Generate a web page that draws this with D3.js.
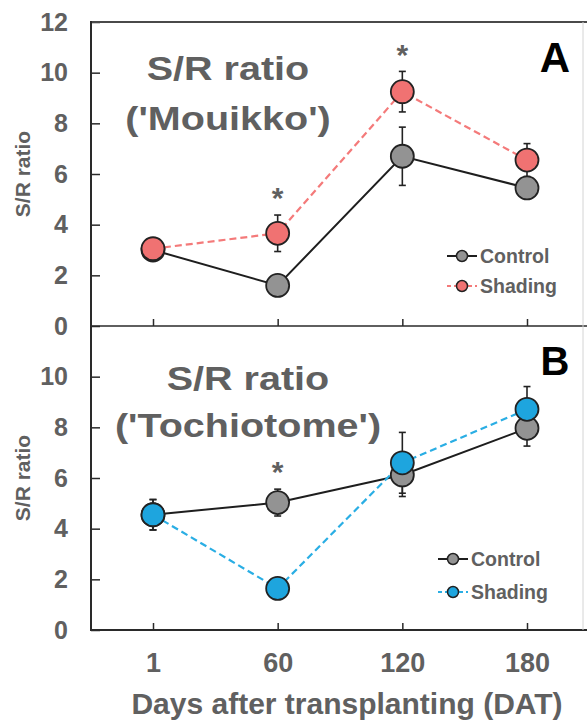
<!DOCTYPE html>
<html>
<head>
<meta charset="utf-8">
<script src="https://cdn.jsdelivr.net/npm/d3@7"></script>
<style>
  body { margin: 0; background: #fff; }
  text { font-family: "Liberation Sans", Arial, sans-serif; font-weight: bold; }
</style>
</head>
<body>
<div id="chart"></div>
<script>
// data
var days = ["1", "60", "120", "180"];
var yTicksA = [0, 2, 4, 6, 8, 10, 12];
var yTicksB = [0, 2, 4, 6, 8, 10];

// panel A, 'Mouikko'
var mouikkoControl = [3.0, 1.6, 6.7, 5.45];
var mouikkoControlErr = [0.15, 0.2, 1.15, 0.3];
var mouikkoShading = [3.05, 3.66, 9.25, 6.55];
var mouikkoShadingErr = [0.15, 0.72, 0.8, 0.65];
var mouikkoSig = ["60", "120"];

// panel B, 'Tochiotome'
var tochiControl = [4.55, 5.03, 6.12, 7.96];
var tochiControlErr = [0.6, 0.53, 0.85, 0.7];
var tochiShading = [4.55, 1.64, 6.6, 8.71];
var tochiShadingErr = [0.6, 0.2, 1.2, 0.9];
var tochiSig = ["60"];

var svgWidth = 587;
var svgHeight = 721;

var left = 91, right = 583;
var topA = 22, mid = 326, bottomB = 630;

var grayText = "#606060";
var axisColor = "#2a2a2a";

var svg = d3.select("#chart")
  .append("svg")
  .attr("width", svgWidth)
  .attr("height", svgHeight);

var x = d3.scalePoint()
  .domain(days)
  .range([153, 527]);

var yA = d3.scaleLinear().domain([0, 12]).range([mid, topA]);
var yB = d3.scaleLinear().domain([0, 12]).range([bottomB, mid]);

function drawPanel(opts) {
  var y = opts.y;
  var g = svg.append("g");

  // left axis
  var leftAxis = d3.axisLeft(y)
    .tickValues(opts.yTicks)
    .tickSize(-9)
    .tickSizeOuter(0)
    .tickPadding(23);
  var ya = g.append("g")
    .attr("transform", `translate(${left},0)`)
    .call(leftAxis);
  ya.select(".domain").remove();
  ya.selectAll("line").attr("stroke", axisColor).attr("stroke-width", 1.5);
  ya.selectAll("text")
    .attr("fill", grayText)
    .style("font-size", "25px");

  // bottom ticks (pointing up)
  var bottomAxis = d3.axisBottom(x).tickSize(-7).tickSizeOuter(0).tickPadding(16);
  var xa = g.append("g")
    .attr("transform", `translate(0,${y(0)})`)
    .call(bottomAxis);
  xa.select(".domain").remove();
  xa.selectAll("line").attr("stroke", axisColor).attr("stroke-width", 1.5);
  if (opts.xLabels) {
    xa.selectAll("text")
      .attr("fill", grayText)
      .attr("dy", "0")
      .attr("y", 672 - y(0))
      .style("font-size", "27px");
  } else {
    xa.selectAll("text").remove();
  }

  // big title
  g.selectAll(".ptitle")
    .data(opts.title)
    .enter()
    .append("text")
    .attr("class", "ptitle")
    .attr("text-anchor", "middle")
    .attr("transform", (d, i) => `translate(${opts.titleX},${opts.titleY[i]}) scale(1.18,1)`)
    .attr("fill", grayText)
    .style("font-size", "33.5px")
    .text(d => d);

  // panel letter
  g.append("text")
    .attr("x", 555)
    .attr("y", opts.letterY)
    .attr("text-anchor", "middle")
    .attr("fill", "#000")
    .style("font-size", opts.letterSize + "px")
    .text(opts.letter);

  var ctrl = days.map((d, i) => ({day: d, v: opts.control[i], e: opts.controlErr[i]}));
  var shd = days.map((d, i) => ({day: d, v: opts.shading[i], e: opts.shadingErr[i]}));

  // error bars
  [ctrl, shd].forEach(function(series) {
    var eb = g.append("g").selectAll("g")
      .data(series)
      .enter()
      .append("g")
      .attr("stroke", "#222")
      .attr("stroke-width", 1.6);
    eb.append("line")
      .attr("x1", d => x(d.day)).attr("x2", d => x(d.day))
      .attr("y1", d => y(d.v - d.e)).attr("y2", d => y(d.v + d.e));
    eb.append("line")
      .attr("x1", d => x(d.day) - 3.5).attr("x2", d => x(d.day) + 3.5)
      .attr("y1", d => y(d.v + d.e)).attr("y2", d => y(d.v + d.e));
    eb.append("line")
      .attr("x1", d => x(d.day) - 3.5).attr("x2", d => x(d.day) + 3.5)
      .attr("y1", d => y(d.v - d.e)).attr("y2", d => y(d.v - d.e));
  });

  var line = d3.line().x(d => x(d.day)).y(d => y(d.v));

  g.append("path")
    .datum(ctrl)
    .attr("d", line)
    .attr("fill", "none")
    .attr("stroke", "#1e1e1e")
    .attr("stroke-width", 2);

  g.append("path")
    .datum(shd)
    .attr("d", line)
    .attr("fill", "none")
    .attr("stroke", opts.lineColor)
    .attr("stroke-width", 2.2)
    .attr("stroke-dasharray", "7,4");

  g.append("g").selectAll("circle")
    .data(ctrl)
    .enter()
    .append("circle")
    .attr("cx", d => x(d.day))
    .attr("cy", d => y(d.v))
    .attr("r", 11.5)
    .attr("fill", "#939393")
    .attr("stroke", "#222")
    .attr("stroke-width", 1.8);

  g.append("g").selectAll("circle")
    .data(shd)
    .enter()
    .append("circle")
    .attr("cx", d => x(d.day))
    .attr("cy", d => y(d.v))
    .attr("r", 11.5)
    .attr("fill", opts.fill)
    .attr("stroke", "#222")
    .attr("stroke-width", 1.8);

  // asterisks above the highest error bar
  g.selectAll(".star")
    .data(opts.sig)
    .enter()
    .append("text")
    .attr("class", "star")
    .attr("x", d => x(d))
    .attr("y", function(d) {
      var i = days.indexOf(d);
      var top = Math.max(opts.control[i] + opts.controlErr[i], opts.shading[i] + opts.shadingErr[i]);
      return y(top + 0.9) + 16;
    })
    .attr("text-anchor", "middle")
    .attr("fill", grayText)
    .style("font-size", "30px")
    .text("*");

  // legend
  var lg = g.append("g");
  var items = [
    {name: "Control", stroke: "#1e1e1e", dash: null, fill: "#939393"},
    {name: "Shading", stroke: opts.lineColor, dash: "4,3", fill: opts.fill}
  ];
  items.forEach(function(it, i) {
    var ly = opts.legendY[i];
    lg.append("line")
      .attr("x1", opts.legendX).attr("x2", opts.legendX + 30)
      .attr("y1", ly).attr("y2", ly)
      .attr("stroke", it.stroke)
      .attr("stroke-width", 2)
      .attr("stroke-dasharray", it.dash);
    lg.append("circle")
      .attr("cx", opts.legendX + 15).attr("cy", ly)
      .attr("r", 5.5)
      .attr("fill", it.fill)
      .attr("stroke", "#222")
      .attr("stroke-width", 1.5);
    lg.append("text")
      .attr("x", opts.legendX + 33)
      .attr("y", ly + 7)
      .attr("fill", grayText)
      .style("font-size", "19.5px")
      .text(it.name);
  });
}

drawPanel({
  y: yA, yTicks: yTicksA, xLabels: false,
  title: ["S/R ratio", "('Mouikko')"], titleX: 228, titleY: [80, 130],
  letter: "A", letterY: 72, letterSize: 42,
  control: mouikkoControl, controlErr: mouikkoControlErr,
  shading: mouikkoShading, shadingErr: mouikkoShadingErr,
  sig: mouikkoSig,
  lineColor: "#f47a7a", fill: "#f07272",
  legendX: 447, legendY: [256, 286]
});

drawPanel({
  y: yB, yTicks: yTicksB, xLabels: true,
  title: ["S/R ratio", "('Tochiotome')"], titleX: 248, titleY: [390, 437],
  letter: "B", letterY: 375, letterSize: 40,
  control: tochiControl, controlErr: tochiControlErr,
  shading: tochiShading, shadingErr: tochiShadingErr,
  sig: tochiSig,
  lineColor: "#2aaee4", fill: "#1ea5de",
  legendX: 438, legendY: [559, 592]
});

// frame lines
svg.append("line")
  .attr("x1", left).attr("x2", svgWidth).attr("y1", topA).attr("y2", topA)
  .attr("stroke", "#4a4a4a").attr("stroke-width", 2);
svg.append("line")
  .attr("x1", left).attr("x2", svgWidth).attr("y1", mid).attr("y2", mid)
  .attr("stroke", axisColor).attr("stroke-width", 1.5);
svg.append("line")
  .attr("x1", left).attr("x2", svgWidth).attr("y1", bottomB).attr("y2", bottomB)
  .attr("stroke", axisColor).attr("stroke-width", 2);
svg.append("line")
  .attr("x1", left).attr("x2", left).attr("y1", topA - 1).attr("y2", bottomB + 1)
  .attr("stroke", axisColor).attr("stroke-width", 2);
svg.append("line")
  .attr("x1", right).attr("x2", right).attr("y1", topA).attr("y2", bottomB)
  .attr("stroke", "#d4d4d4").attr("stroke-width", 1);

// y axis titles
[yA, yB].forEach(function(y) {
  svg.append("text")
    .attr("transform", `translate(30,${(y.range()[0] + y.range()[1]) / 2}) rotate(-90)`)
    .attr("text-anchor", "middle")
    .attr("fill", grayText)
    .style("font-size", "21px")
    .text("S/R ratio");
});

// x axis title
svg.append("text")
  .attr("x", 347)
  .attr("y", 714)
  .attr("text-anchor", "middle")
  .attr("fill", grayText)
  .style("font-size", "30px")
  .text("Days after transplanting (DAT)");
</script>
</body>
</html>
